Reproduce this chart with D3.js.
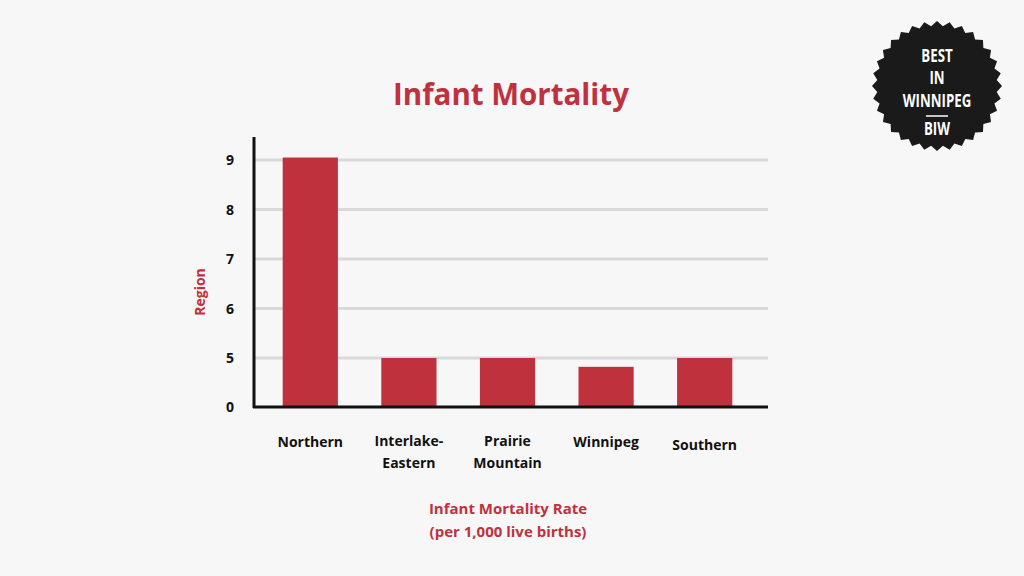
<!DOCTYPE html>
<html><head><meta charset="utf-8">
<script src="https://cdn.jsdelivr.net/npm/d3@7"></script>
<style>body{margin:0;background:#f7f7f7}text{font-family:"Open Sans",sans-serif;font-weight:700}</style>
</head><body><div id="chart"></div>
<script>
var regions = ['Northern', 'Interlake-Eastern', 'Prairie Mountain', 'Winnipeg', 'Southern'];
var labelLines = [['Northern'], ['Interlake-', 'Eastern'], ['Prairie', 'Mountain'], ['Winnipeg'], ['Southern']];
var rates = [9.05, 5.0, 5.0, 4.1, 5.0];
var tickValues = [0, 5, 6, 7, 8, 9];

var red = '#bf323d';
var svg = d3.select('#chart').append('svg').attr('width', 1024).attr('height', 576);
svg.append('rect').attr('width', 1024).attr('height', 576).attr('fill', '#f7f7f7');

// broken axis: 0 then 5..9
var yScale = d3.scaleLinear().domain([0, 5, 9]).range([407, 358, 160]);
var xScale = d3.scaleBand().domain(regions).range([261, 754]).paddingInner(0.44).paddingOuter(0.22);

var g = svg.append('g');
tickValues.filter(function (t) { return t > 0; }).forEach(function (t) {
	g.append('line').attr('x1', 254).attr('x2', 768).attr('y1', yScale(t)).attr('y2', yScale(t))
		.attr('stroke', '#d9d9d9').attr('stroke-width', 3);
});

g.selectAll('.bar').data(rates).enter().append('rect')
	.attr('x', function (d, i) { return xScale(regions[i]); })
	.attr('width', xScale.bandwidth())
	.attr('y', function (d) { return yScale(d); })
	.attr('height', function (d) { return 407 - yScale(d); })
	.attr('fill', red);

g.append('line').attr('x1', 254).attr('x2', 254).attr('y1', 137).attr('y2', 408).attr('stroke', '#111').attr('stroke-width', 3);
g.append('line').attr('x1', 253).attr('x2', 768).attr('y1', 407).attr('y2', 407).attr('stroke', '#111').attr('stroke-width', 3);

tickValues.forEach(function (t) {
	g.append('text').attr('x', 234).attr('y', yScale(t) + 5).attr('text-anchor', 'end')
		.attr('font-size', 14).attr('fill', '#111').text(t);
});

labelLines.forEach(function (lines, i) {
	var cx = xScale(regions[i]) + xScale.bandwidth() / 2;
	var y0 = lines.length == 1 ? (i == 4 ? 450 : 447) : 446;
	lines.forEach(function (l, j) {
		g.append('text').attr('x', cx).attr('y', y0 + j * 22).attr('text-anchor', 'middle')
			.attr('font-size', 14).attr('fill', '#111').text(l);
	});
});

svg.append('text').attr('x', 511).attr('y', 105).attr('text-anchor', 'middle')
	.attr('font-size', 29.5).attr('fill', red).text('Infant Mortality');
svg.append('text').attr('transform', 'translate(205,292) rotate(-90)').attr('text-anchor', 'middle')
	.attr('font-size', 14).attr('fill', red).text('Region');
svg.append('text').attr('x', 508).attr('y', 514).attr('text-anchor', 'middle')
	.attr('font-size', 15).attr('fill', red).text('Infant Mortality Rate');
svg.append('text').attr('x', 508).attr('y', 537).attr('text-anchor', 'middle')
	.attr('font-size', 15).attr('fill', red).text('(per 1,000 live births)');

// badge
var cx = 937, cy = 86, n = 32;
var pts = d3.range(n * 2).map(function (i) {
	var a = i * Math.PI / n, r = i % 2 ? 60 : 65;
	return [cx + r * Math.sin(a), cy - r * Math.cos(a)];
});
svg.append('polygon').attr('points', pts.join(' ')).attr('fill', '#1a1a1a');
var badge = [['BEST', 62], ['IN', 84], ['WINNIPEG', 107], ['BIW', 135]];
badge.forEach(function (b) {
	svg.append('text').attr('transform', 'translate(' + cx + ',' + b[1] + ') scale(0.78,1)')
		.attr('text-anchor', 'middle').attr('font-family', 'Roboto').attr('font-weight', 500)
		.attr('font-size', 17).attr('fill', '#fff').text(b[0]);
});
svg.append('line').attr('x1', cx - 11).attr('x2', cx + 11).attr('y1', 116).attr('y2', 116).attr('stroke', '#fff').attr('stroke-width', 1.5);
</script></body></html>
